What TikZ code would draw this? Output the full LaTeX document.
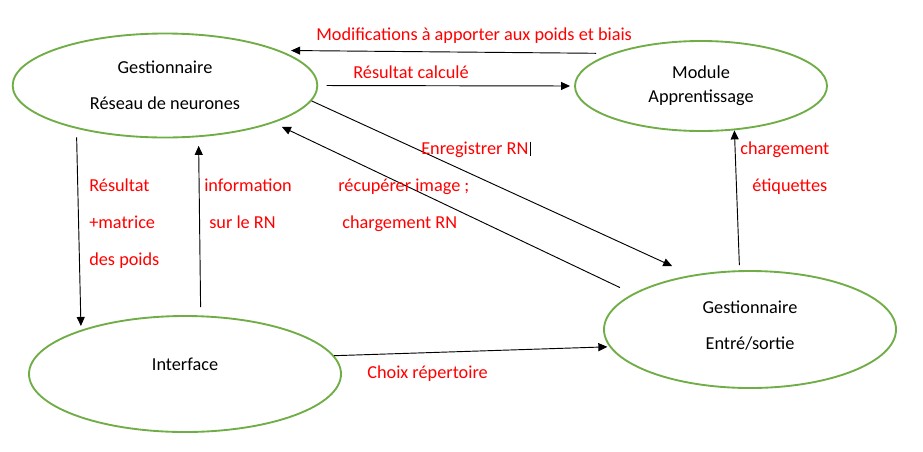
\documentclass[tikz,border=0pt]{standalone}
\usepackage{fontspec}
\setmainfont{Carlito}
\usetikzlibrary{shapes.geometric,arrows.meta}
\definecolor{vertbord}{RGB}{112,173,71}
\definecolor{rouge}{RGB}{255,0,0}
\tikzset{
	bulle/.style={ellipse, draw=vertbord, line width=1.4pt, align=center, inner sep=0pt, font=\fontsize{13.7}{27}\selectfont},
	fleche/.style={-{Triangle[length=6.8pt,width=6pt]}, line width=0.7pt},
	etiq/.style={text=rouge, anchor=west, inner sep=1pt, text height=8.8pt, text depth=0pt, font=\fontsize{13.7}{16}\selectfont}
}

\begin{document}
\begin{tikzpicture}[x=0.75pt,y=-0.75pt]
				\useasboundingbox (0,0) rectangle (923,451);
				
				% les quatre modules
				\node[bulle, minimum width=228.5pt, minimum height=78pt] (rn) at (165,85.5) {Gestionnaire\\Réseau de neurones};
				\node[bulle, minimum width=189pt, minimum height=67.5pt, font=\fontsize{13.7}{18}\selectfont] (ma) at (701,86) {Module\\Apprentissage};
				\node[bulle, minimum width=234pt, minimum height=87pt, text height=8.8pt, text depth=13.5pt] (if) at (185,374) {Interface};
				\node[bulle, minimum width=219pt, minimum height=87.75pt, text depth=6.8pt] (es) at (750,329.5) {Gestionnaire\\Entré/sortie};
				
				% echanges
				\draw[fleche, shorten <=11.6pt, shorten >=8.5pt] (ma.160) -- (rn.17);
				\draw[fleche, shorten <=6.2pt, shorten >=3pt] (rn.-0.9) -- (ma.180);
				\draw[fleche, shorten >=15.9pt] (rn.-6.4) -- (es.137.1);
				\draw[fleche, shorten <=10.7pt, shorten >=6.9pt] (es.163.8) -- (rn.-19.1);
				\draw[fleche, shorten <=6.5pt, shorten >=2.9pt] (rn.206.5) -- (if.157.4);
				\draw[fleche, shorten <=6.2pt, shorten >=6.5pt] (if.75.4) -- (rn.-57.8);
				\draw[fleche, shorten <=3.9pt] (es.100.7) -- (ma.-53.5);
				\draw[fleche, shorten >=1.5pt] (if.7.3) -- (es.187.4);
				
				% textes
				\node[etiq] (modif) at (314.7,35) {Modifications à apporter aux poids et biais};
				\node[etiq] (rescal) at (351.7,73) {Résultat calculé};
				\node[etiq] (enr) at (419.7,149) {Enregistrer RN};
				\draw[line width=0.6pt] (enr.north east) -- (enr.south east);
				\node[etiq] (recup) at (336.7,186) {récupérer image ;};
				\node[etiq] (chrn) at (340.7,223) {chargement RN};
				\node[etiq] (res) at (87.7,186) {Résultat};
				\node[etiq] (mat) at (87.7,223) {+matrice};
				\node[etiq] (dpo) at (87.7,260) {des poids};
				\node[etiq] (info) at (202.7,186) {information};
				\node[etiq] (surrn) at (207.7,223) {sur le RN};
				\node[etiq] (chg) at (738.7,149) {chargement};
				\node[etiq] (eti) at (750.7,186) {étiquettes};
				\node[etiq] (choix) at (365.7,373) {Choix répertoire};
\end{tikzpicture}
\end{document}
